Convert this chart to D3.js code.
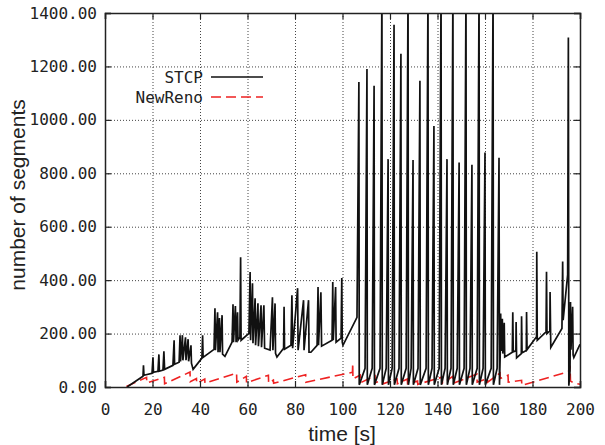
<!DOCTYPE html>
<html>
<head>
<meta charset="utf-8">
<script src="https://cdn.jsdelivr.net/npm/d3@7"></script>
<style>
  body { margin: 0; background: #fff; }
  svg { display: block; }
</style>
</head>
<body>
<div id="chart"></div>
<script>
// congestion window, STCP vs NewReno

var xTicks = [0, 20, 40, 60, 80, 100, 120, 140, 160, 180, 200];
var yTicks = [0, 200, 400, 600, 800, 1000, 1200, 1400];
var seriesNames = ["STCP", "NewReno"];

// [time (s), segments]
var stcp = [
    [9.3, 0], [16.0, 40], [16.2, 81], [16.4, 44], [19.8, 51], [20.2, 111], [20.4, 55],
    [22.3, 59], [22.7, 122], [22.9, 59], [24.4, 63], [24.8, 134], [25.1, 66],
    [28.6, 81], [29.1, 175], [29.3, 85], [31.2, 93], [31.6, 194], [31.8, 96],
    [32.6, 194], [32.8, 100], [33.9, 186], [34.1, 100], [35.0, 179], [35.2, 96],
    [36.2, 156], [36.4, 89], [37.1, 66], [40.8, 108], [41.1, 194], [41.3, 111],
    [45.9, 141], [46.3, 295], [46.5, 138], [47.4, 280], [47.6, 130], [48.2, 258],
    [48.4, 130], [49.3, 269], [49.5, 123], [50.5, 115], [53.5, 168], [53.9, 310],
    [54.1, 168], [54.9, 303], [55.2, 168], [55.8, 280], [56.0, 175], [56.8, 186],
    [57.1, 486], [57.3, 175], [60.6, 201], [61.1, 430], [61.3, 175], [62.1, 388],
    [62.3, 164], [63.2, 332], [63.4, 156], [64.4, 313], [64.6, 153], [65.7, 306],
    [65.9, 149], [66.9, 306], [67.2, 145], [69.5, 138], [70.5, 336], [70.7, 138],
    [71.6, 313], [71.8, 126], [72.4, 112], [75.2, 145], [75.4, 300], [75.6, 141],
    [78.3, 156], [78.7, 343], [79.0, 145], [81.1, 370], [81.3, 138], [83.6, 325],
    [83.8, 138], [85.7, 325], [85.9, 130], [86.7, 130], [89.3, 156], [89.7, 374],
    [89.9, 156], [90.9, 355], [91.2, 153], [95.6, 175], [95.9, 393], [96.1, 175],
    [97.1, 374], [97.3, 168], [99.4, 183], [99.7, 408], [99.9, 168], [100.2, 156],
    [106.1, 261], [106.9, 1142], [107.05, 8], [109.5, 70],
    [110.3, 1190], [110.45, 8], [112.5, 70],
    [113.3, 1128], [113.45, 8], [115.8, 70],
    [116.6, 1500], [116.75, 8], [118.4, 70],
    [119.2, 853], [119.35, 8], [120.9, 70],
    [121.7, 1356], [121.85, 8], [123.8, 70],
    [124.6, 1247], [124.75, 8], [126.8, 70],
    [127.6, 1500], [127.75, 8], [128.9, 70],
    [129.7, 850], [129.85, 8], [131.8, 70],
    [132.6, 1146], [132.75, 8], [135.2, 70],
    [136.0, 1500], [136.15, 8], [137.7, 70],
    [138.5, 977], [138.65, 8], [140.7, 70],
    [141.5, 1500], [141.65, 8], [143.2, 70],
    [144.0, 853], [144.15, 8], [145.7, 70],
    [146.5, 1500], [146.65, 8], [148.3, 70],
    [149.1, 840], [149.25, 8], [151.2, 70],
    [152.0, 1500], [152.15, 8], [153.7, 70],
    [154.5, 832], [154.65, 8], [156.7, 70],
    [157.5, 1500], [157.65, 8], [159.2, 70],
    [160.0, 878], [160.15, 8], [162.6, 70],
    [163.4, 1500], [163.55, 8], [165.1, 70],
    [165.9, 858], [166.1, 8], [166.4, 120], [166.6, 275], [166.8, 135],
    [167.3, 255], [167.5, 125], [168.1, 240], [168.3, 112], [171.5, 130],
    [171.7, 280], [171.9, 132], [173.0, 135], [173.1, 243], [173.3, 109],
    [175.3, 125], [175.4, 265], [175.6, 128], [177.4, 137], [177.5, 281],
    [177.7, 140], [181.7, 188], [181.8, 506], [182.0, 175], [185.7, 206],
    [185.9, 431], [186.1, 200], [187.3, 210], [187.4, 356], [187.7, 148],
    [192.4, 219], [192.7, 470], [192.9, 250], [194.8, 420], [195.1, 1308],
    [195.3, 5], [195.8, 60], [196.0, 318], [196.2, 140], [196.9, 300],
    [197.1, 120], [197.4, 110], [200.0, 160]
];

var newreno = [
    [9.0, 2], [17.5, 36], [17.6, 15], [25.0, 36], [25.1, 12], [35.8, 56], [35.9, 20],
    [38.5, 32], [38.6, 14], [42.0, 30], [42.1, 14], [55.4, 52], [55.5, 18],
    [59.5, 40], [59.6, 16], [68.8, 44], [68.9, 15], [70.9, 26], [71.0, 14],
    [84.5, 46], [84.6, 18], [104.2, 55], [104.3, 89], [104.4, 30],
    [107.5, 45], [107.6, 16], [113.7, 42], [113.8, 16], [117.0, 26], [117.1, 12],
    [123.0, 30], [123.1, 12], [127.3, 30], [127.4, 12], [131.6, 22], [131.7, 10],
    [142.0, 37], [142.1, 14], [146.5, 40], [146.6, 14], [156.6, 48], [156.7, 18],
    [161.0, 32], [161.1, 18], [166.3, 52], [166.4, 32], [169.7, 44], [169.8, 18],
    [175.4, 25], [175.5, 6], [193.0, 52], [195.6, 60], [195.8, 80], [196.0, 22],
    [197.5, 15], [200.0, 10]
];

var margin = { left: 105, right: 25, top: 13, bottom: 58 };
var width = 605 - margin.left - margin.right,
    height = 445 - margin.top - margin.bottom;

var svg = d3.select("#chart")
    .append("svg")
    .attr("width", 605)
    .attr("height", 445);

var g = svg.append("g")
    .attr("transform", "translate(" + margin.left + "," + margin.top + ")");

var xScale = d3.scaleLinear().domain([0, 200]).range([0, width]);
var yScale = d3.scaleLinear().domain([0, 1400]).range([height, 0]);

//grid
g.append("g")
    .attr("class", "grid")
    .call(d3.axisBottom(xScale).tickValues(xTicks.slice(1, -1)).tickSize(height).tickFormat(""))
    .call(function (s) { s.select(".domain").remove(); });
g.append("g")
    .attr("class", "grid")
    .call(d3.axisLeft(yScale).tickValues(yTicks.slice(1, -1)).tickSize(-width).tickFormat(""))
    .call(function (s) { s.select(".domain").remove(); });
g.selectAll(".grid line")
    .attr("stroke", "#444")
    .attr("stroke-width", 1)
    .attr("stroke-dasharray", "1,2");

//clip lines to frame
g.append("clipPath").attr("id", "clip")
    .append("rect").attr("width", width).attr("height", height);

var line = d3.line()
    .x(function (d) { return xScale(d[0]); })
    .y(function (d) { return yScale(d[1]); });

g.append("path")
    .attr("clip-path", "url(#clip)")
    .attr("d", line(newreno))
    .attr("fill", "none")
    .attr("stroke", "#ee2222")
    .attr("stroke-width", 1.6)
    .attr("stroke-dasharray", "10,5");

g.append("path")
    .attr("clip-path", "url(#clip)")
    .attr("d", line(stcp))
    .attr("fill", "none")
    .attr("stroke", "#111")
    .attr("stroke-width", 1.7);

//axes, ticks point inward
var tickFont = "'DejaVu Sans Mono', monospace";
var xAxis = d3.axisBottom(xScale).tickValues(xTicks).tickSize(-6).tickPadding(17).tickFormat(d3.format("d"));
var yAxis = d3.axisLeft(yScale).tickValues(yTicks).tickSize(-6).tickPadding(8).tickFormat(d3.format(".2f"));

g.append("g").attr("transform", "translate(0," + height + ")").call(xAxis);
g.append("g").call(yAxis);
g.append("g").call(d3.axisTop(xScale).tickValues(xTicks).tickSize(-6).tickFormat(""));
g.append("g").attr("transform", "translate(" + width + ",0)")
    .call(d3.axisRight(yScale).tickValues(yTicks).tickSize(-6).tickFormat(""));

g.selectAll(".domain").attr("stroke", "#222").attr("stroke-width", 1.5);
g.selectAll(".tick line").filter(function () { return this.parentNode.parentNode.getAttribute("class") !== "grid"; })
    .attr("stroke", "#222").attr("stroke-width", 1.2);
g.selectAll(".tick text")
    .attr("font-family", tickFont)
    .attr("font-size", 16)
    .attr("fill", "#222");

//axis titles
svg.append("text")
    .attr("x", 342)
    .attr("y", 441)
    .attr("text-anchor", "middle")
    .attr("font-family", "'Liberation Sans', Arial, sans-serif")
    .attr("font-size", 21)
    .attr("fill", "#222")
    .text("time [s]");

svg.append("text")
    .attr("transform", "translate(25,195) rotate(-90)")
    .attr("text-anchor", "middle")
    .attr("font-family", "'Liberation Sans', Arial, sans-serif")
    .attr("font-size", 21)
    .attr("fill", "#222")
    .text("number of segments");

//legend
var legend = svg.append("g");
var legendColors = ["#111", "#ee2222"];
var legendDash = [null, "10,5"];
seriesNames.forEach(function (name, i) {
    var ly = 77 + i * 20;
    legend.append("text")
        .attr("x", 203)
        .attr("y", ly + 6)
        .attr("text-anchor", "end")
        .attr("font-family", tickFont)
        .attr("font-size", 16)
        .attr("fill", "#222")
        .text(name);
    legend.append("line")
        .attr("x1", 211).attr("x2", 263)
        .attr("y1", ly).attr("y2", ly)
        .attr("stroke", legendColors[i])
        .attr("stroke-width", 1.5)
        .attr("stroke-dasharray", legendDash[i]);
});
</script>
</body>
</html>
